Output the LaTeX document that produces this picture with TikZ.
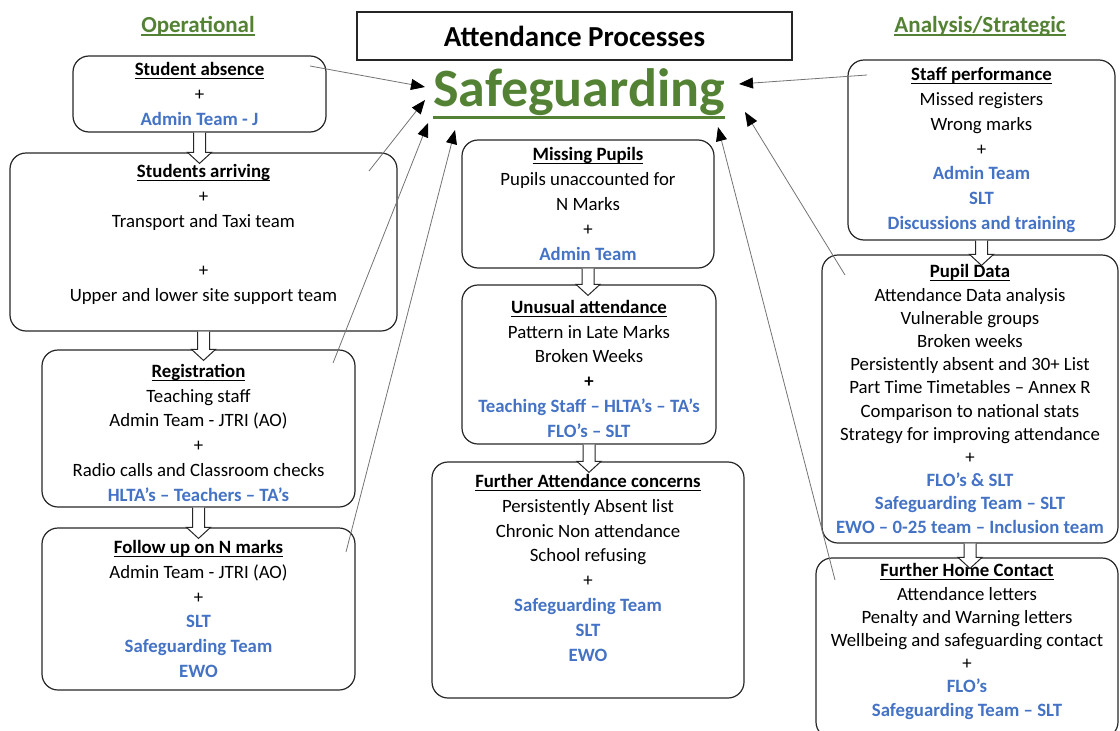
\documentclass[tikz,border=0pt]{standalone}
\usepackage{fontspec}
\setmainfont{Carlito}
\usetikzlibrary{arrows.meta,calc}

\definecolor{teamblue}{HTML}{4472C4}
\definecolor{headgreen}{HTML}{548235}

% underline: thickness, drop below baseline, text
\newcommand{\ulx}[3]{\leavevmode\setbox0\hbox{#3}\rlap{\rule[-#2]{\wd0}{#1}}\box0}
\newcommand{\uline}[1]{\ulx{1.2pt}{3.4pt}{#1}}
\newcommand{\hd}[1]{\textbf{\uline{#1}}}
\newcommand{\tm}[1]{\textcolor{teamblue}{\textbf{#1}}}
% hollow block arrow from one box down into the next
\newcommand{\flowarrow}[2]{%
    \draw[flowarrow] let \p1=(#1.south), \p2=(#2.north) in
        (\x1-6pt,\y1) -- (\x1-6pt,\y2) -- (\x1-12pt,\y2) -- (\x1,\y2-11pt)
        -- (\x1+12pt,\y2) -- (\x1+6pt,\y2) -- (\x1+6pt,\y1);}

\tikzset{
    box/.style={draw=black!85, line width=1.2pt, rounded corners=16pt, align=center,
        inner sep=2pt, font=\fontsize{18.8}{24.8}\selectfont},
    tightbox/.style={box, font=\fontsize{18.8}{23.2}\selectfont},
    flowarrow/.style={draw=black!85, line width=1pt, fill=white},
    feed/.style={draw=black!55, line width=0.8pt, -{Triangle[length=14pt,width=11pt,color=black]}},
    sidehead/.style={font=\fontsize{23}{27}\selectfont\bfseries, text=headgreen},
    titlebox/.style={draw=black!85, line width=1.2pt, minimum width=435pt, minimum height=48pt,
        font=\fontsize{29}{32}\selectfont\bfseries}
}

\begin{document}
\begin{tikzpicture}[x=1pt, y=-1pt]
    \useasboundingbox (0,0) rectangle (1120,731);
    \clip (0,0) rectangle (1120,731);

    % headings
    \node[titlebox] (title) at (574.5,36) {\raisebox{-2.5pt}{Attendance Processes}};
    \node[sidehead] (oper) at (198,26) {\uline{Operational}};
    \node[sidehead] (anal) at (980,26) {\uline{Analysis/Strategic}};
    \node[font=\fontsize{54}{60}\selectfont\bfseries, text=headgreen] (safe) at (579,94)
        {\ulx{3pt}{12pt}{Safeguarding}};

    % operational
    \node[box, minimum width=253pt, minimum height=76pt] (absence) at (199.5,94)
        {\hd{Student absence}\\ +\\ \tm{Admin Team - J}};
    \node[box, minimum width=387pt, minimum height=178pt] (arriving) at (203.5,242)
        {\hd{Students arriving}\\ +\\ Transport and Taxi team\\ \\ +\\ Upper and lower site support team\\[-7pt] {}};
    \node[box, minimum width=313pt, minimum height=157pt] (regist) at (198.5,428.5)
        {{}\\[-3pt] \hd{Registration}\\ Teaching staff\\ Admin Team - JTRI (AO)\\ +\\ Radio calls and Classroom checks\\
         \tm{HLTA’s – Teachers – TA’s}};
    \node[box, minimum width=313pt, minimum height=162pt] (follow) at (198.5,609)
        {\hd{Follow up on N marks}\\ Admin Team - JTRI (AO)\\ +\\ \tm{SLT}\\ \tm{Safeguarding Team}\\ \tm{EWO}};

    % middle
    \node[box, minimum width=252pt, minimum height=128pt] (missing) at (588,204)
        {\hd{Missing Pupils}\\ Pupils unaccounted for\\ N Marks\\ +\\ \tm{Admin Team}};
    \node[box, minimum width=254pt, minimum height=159pt] (unusual) at (589,364.5)
        {{}\\[-3pt] \hd{Unusual attendance}\\ Pattern in Late Marks\\ Broken Weeks\\ \textbf{+}\\
         \tm{Teaching Staff – HLTA’s – TA’s}\\ \tm{FLO’s – SLT}};
    \node[box, minimum width=312pt, minimum height=236pt] (concerns) at (588,580)
        {\hd{Further Attendance concerns}\\ Persistently Absent list\\ Chronic Non attendance\\ School refusing\\ +\\
         \tm{Safeguarding Team}\\ \tm{SLT}\\ \tm{EWO}\\ {}};

    % analysis / strategic
    \node[box, minimum width=267pt, minimum height=180pt] (staff) at (981.5,150)
        {\hd{Staff performance}\\ Missed registers\\ Wrong marks\\ +\\ \tm{Admin Team}\\ \tm{SLT}\\
         \tm{Discussions and training}};
    \node[tightbox, minimum width=296pt, minimum height=288pt] (pupil) at (970,399)
        {\hd{Pupil Data}\\ Attendance Data analysis\\ Vulnerable groups\\ Broken weeks\\
         Persistently absent and 30+ List\\ Part Time Timetables – Annex R\\ Comparison to national stats\\
         Strategy for improving attendance\\ +\\ \tm{FLO’s \& SLT}\\ \tm{Safeguarding Team – SLT}\\
         \tm{EWO – 0-25 team – Inclusion team}};
    \node[tightbox, minimum width=302pt, minimum height=180pt] (home) at (967,648)
        {\hd{Further Home Contact}\\ Attendance letters\\ Penalty and Warning letters\\
         Wellbeing and safeguarding contact\\ +\\ \tm{FLO’s}\\ \tm{Safeguarding Team – SLT}\\[-7pt] {}};

    % flow between boxes
    \flowarrow{absence}{arriving}
    \flowarrow{arriving}{regist}
    \flowarrow{regist}{follow}
    \flowarrow{missing}{unusual}
    \flowarrow{unusual}{concerns}
    \flowarrow{staff}{pupil}
    \flowarrow{pupil}{home}

    % feeds into safeguarding
    \coordinate (absence-out) at (310,66);
    \coordinate (arriving-out) at (369,171);
    \coordinate (regist-out) at (333,363);
    \coordinate (follow-out) at (346,552);
    \coordinate (staff-out) at (867,75);
    \coordinate (pupil-out) at (845,275);
    \coordinate (home-out) at (835,580);
    \coordinate (safe-in1) at (425,87);
    \coordinate (safe-in2) at (425,100);
    \coordinate (safe-in3) at (428,123);
    \coordinate (safe-in4) at (455,130);
    \coordinate (safe-in5) at (739,84);
    \coordinate (safe-in6) at (745,112);
    \coordinate (safe-in7) at (718,127);
    \draw[feed] (absence-out) -- (safe-in1);
    \draw[feed] (arriving-out) -- (safe-in2);
    \draw[feed] (regist-out) -- (safe-in3);
    \draw[feed] (follow-out) -- (safe-in4);
    \draw[feed] (staff-out) -- (safe-in5);
    \draw[feed] (pupil-out) -- (safe-in6);
    \draw[feed] (home-out) -- (safe-in7);
\end{tikzpicture}
\end{document}
